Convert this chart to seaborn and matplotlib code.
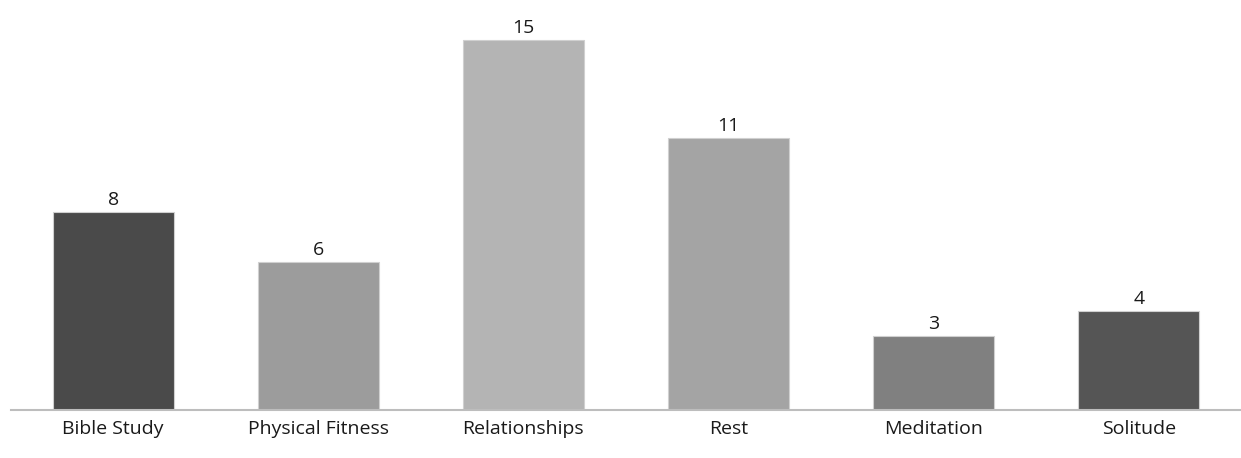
import matplotlib
matplotlib.use("Agg")
import matplotlib.pyplot as plt
import seaborn as sns
import pandas as pd

categories = ["Bible Study", "Physical Fitness", "Relationships", "Rest", "Meditation", "Solitude"]
values = [8, 6, 15, 11, 3, 4]
bar_colors = ["#4a4a4a", "#9c9c9c", "#b4b4b4", "#a4a4a4", "#808080", "#555555"]

sns.set_theme(style="white")
plt.rcParams["font.family"] = ["Open Sans", "DejaVu Sans"]

df = pd.DataFrame({"category": categories, "value": values})

fig = plt.figure(figsize=(12.41, 4.58), dpi=100)
ax = fig.add_axes([10.5 / 1241, 48 / 458, 1231 / 1241, 410 / 458])

sns.barplot(data=df, x="category", y="value", hue="category", palette=bar_colors,
            legend=False, width=0.59, ax=ax, edgecolor="#d0d0d0", linewidth=0.8,
            saturation=1)

for i, v in enumerate(values):
    ax.text(i, v + 0.12, str(v), ha="center", va="bottom", fontsize=14, color="#1a1a1a")

ax.set_xlim(-0.5, len(categories) - 0.5)
ax.set_ylim(0, 16.6)
ax.set_xlabel("")
ax.set_ylabel("")
ax.set_yticks([])
ax.tick_params(axis="x", length=0, pad=7, labelsize=14, labelcolor="#1a1a1a")
for side in ["top", "left", "right"]:
    ax.spines[side].set_visible(False)
ax.spines["bottom"].set_color("#bdbdbd")
ax.spines["bottom"].set_linewidth(1.5)

fig.savefig("out.png", dpi=100, facecolor="white")
